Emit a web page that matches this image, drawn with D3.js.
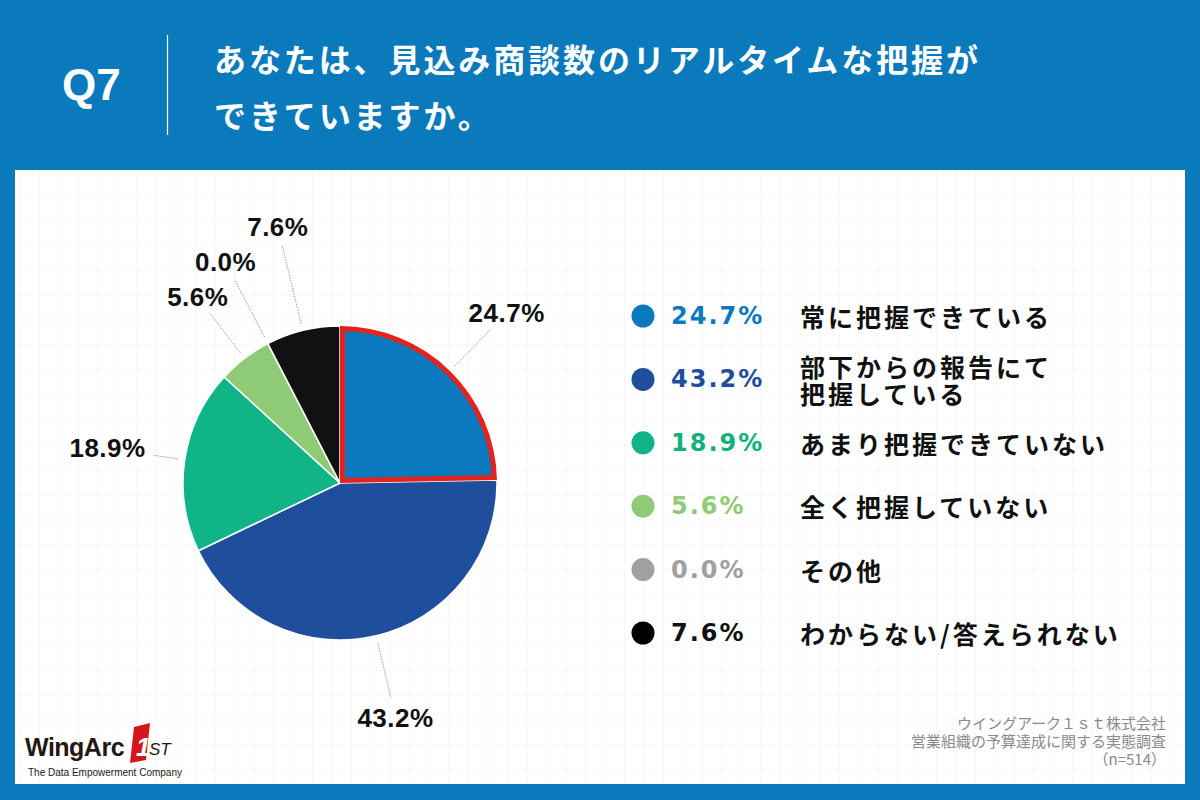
<!DOCTYPE html>
<html lang="ja">
<head>
<meta charset="UTF-8">
<title>Q7 見込み商談数のリアルタイムな把握</title>
<script src="https://d3js.org/d3.v7.min.js"></script>
<style>
  body { margin: 0; background: #0a7abd; }
  svg { display: block; }
</style>
</head>
<body>
<svg id="chart" width="1200" height="800"></svg>
<script>
// data
const categories = [
  "常に把握できている",
  "部下からの報告にて|把握している",
  "あまり把握できていない",
  "全く把握していない",
  "その他",
  "わからない/答えられない"
];
const values = [24.7, 43.2, 18.9, 5.6, 0.0, 7.6];
const colors = ["#0a79bd", "#1f4e9d", "#11b486", "#8fcb77", "#a0a0a0", "#111111"];
const legendTextColors = ["#0a79bd", "#1f4e9d", "#11b07f", "#8fcb77", "#a0a0a0", "#111111"];
const titleLines = ["あなたは、見込み商談数のリアルタイムな把握が", "できていますか。"];
const sourceLines = ["ウイングアーク１ｓｔ株式会社", "営業組織の予算達成に関する実態調査", "（n=514）"];

// label placement (layout only): leader-line end radius and label radius per slice
const leaderEnd = [215, 220, 189, 214, 229, 244];
const labelRadius = [238, 241, 235, 234, 249, 263];

const svg = d3.select("#chart");
const W = 1200, H = 800;

// header
svg.append("rect").attr("width", W).attr("height", H).attr("fill", "#0a7abd");
svg.append("text")
  .attr("x", 62).attr("y", 100)
  .attr("font-family", "'Liberation Sans', Arial, sans-serif")
  .attr("font-weight", 700).attr("font-size", 44)
  .attr("fill", "#fff").text("Q7");
svg.append("line")
  .attr("x1", 167.5).attr("x2", 167.5).attr("y1", 35).attr("y2", 135)
  .attr("stroke", "#fff").attr("stroke-width", 1.2);
svg.selectAll(".title")
  .data(titleLines)
  .enter().append("text")
  .attr("class", "title")
  .attr("x", 214)
  .attr("y", (d, i) => 58 + i * 56)
  .attr("dominant-baseline", "central")
  .attr("font-family", "'Noto Sans CJK JP', sans-serif")
  .attr("font-weight", 700).attr("font-size", 32)
  .attr("letter-spacing", 2.9)
  .attr("fill", "#fff")
  .text(d => d);

// white panel with faint grid
const panel = { x: 15, y: 170, w: 1170, h: 614 };
svg.append("rect")
  .attr("x", panel.x).attr("y", panel.y)
  .attr("width", panel.w).attr("height", panel.h)
  .attr("fill", "#fff");
const grid = svg.append("g").attr("stroke", "#f7f7f7").attr("stroke-width", 1);
grid.selectAll(".gv")
  .data(d3.range(panel.x + 5, panel.x + panel.w, 19.5))
  .enter().append("line")
  .attr("x1", d => d).attr("x2", d => d)
  .attr("y1", panel.y).attr("y2", panel.y + panel.h);
grid.selectAll(".gh")
  .data(d3.range(panel.y + 25, panel.y + panel.h, 25))
  .enter().append("line")
  .attr("x1", panel.x).attr("x2", panel.x + panel.w)
  .attr("y1", d => d).attr("y2", d => d);

// pie
const cx = 340, cy = 483, r = 157;
const pie = d3.pie().sort(null).value(d => d);
const arcs = pie(values);
const arc = d3.arc().innerRadius(0).outerRadius(r);

const g = svg.append("g").attr("transform", `translate(${cx},${cy})`);

g.selectAll(".slice")
  .data(arcs)
  .enter().append("path")
  .attr("class", "slice")
  .attr("d", arc)
  .attr("fill", (d, i) => colors[i])
  .attr("stroke", "#fff")
  .attr("stroke-width", 1.5)
  .attr("stroke-linejoin", "round");

// red highlight on the first slice, drawn inside it
svg.append("defs").append("clipPath").attr("id", "hl")
  .append("path").attr("d", arc(arcs[0]));
g.append("path")
  .attr("d", arc(arcs[0]))
  .attr("fill", "none")
  .attr("stroke", "#e3231c")
  .attr("stroke-width", 10)
  .attr("stroke-linejoin", "miter")
  .attr("clip-path", "url(#hl)");

// leader lines and labels
const mid = d => (d.startAngle + d.endAngle) / 2;
const polar = (a, rad) => [Math.sin(a) * rad, -Math.cos(a) * rad];

g.selectAll(".leader")
  .data(arcs)
  .enter().append("line")
  .attr("class", "leader")
  .attr("x1", d => polar(mid(d), r + 7)[0])
  .attr("y1", d => polar(mid(d), r + 7)[1])
  .attr("x2", (d, i) => polar(mid(d), leaderEnd[i])[0])
  .attr("y2", (d, i) => polar(mid(d), leaderEnd[i])[1])
  .attr("stroke", "#9a9a9a")
  .attr("stroke-width", 1)
  .attr("stroke-dasharray", "1.5,1.2");

const pct = d3.format(".1f");
g.selectAll(".plabel")
  .data(arcs)
  .enter().append("text")
  .attr("class", "plabel")
  .attr("x", (d, i) => polar(mid(d), labelRadius[i])[0])
  .attr("y", (d, i) => polar(mid(d), labelRadius[i])[1])
  .attr("text-anchor", "middle")
  .attr("dominant-baseline", "central")
  .attr("font-family", "'Liberation Sans', Arial, sans-serif")
  .attr("font-weight", 700).attr("font-size", 26)
  .attr("letter-spacing", 0.5)
  .attr("fill", "#111")
  .text(d => pct(d.data) + "%");

// legend
const rowY = d3.scalePoint().domain(categories).range([316, 633]);
const legend = svg.append("g");
const rows = legend.selectAll(".row")
  .data(categories)
  .enter().append("g")
  .attr("class", "row")
  .attr("transform", d => `translate(0,${rowY(d)})`);

rows.append("circle")
  .attr("cx", 643).attr("cy", 0).attr("r", 11.5)
  .attr("fill", (d, i) => colors[i] === "#111111" ? "#000" : colors[i]);

rows.append("text")
  .attr("x", 671).attr("y", 0)
  .attr("dominant-baseline", "central")
  .attr("font-family", "'DejaVu Sans', sans-serif")
  .attr("font-weight", 700).attr("font-size", 24)
  .attr("letter-spacing", 2)
  .attr("fill", (d, i) => legendTextColors[i])
  .text((d, i) => pct(values[i]) + "%");

// category labels; a two-line label goes into one text with tspans
rows.append("text")
  .attr("class", "lab")
  .attr("y", 0)
  .attr("dominant-baseline", "central")
  .attr("font-family", "'Noto Sans CJK JP', sans-serif")
  .attr("font-weight", 700).attr("font-size", 25)
  .attr("letter-spacing", 3)
  .attr("fill", "#111")
  .each(function(d) {
    const parts = d.split("|");
    d3.select(this).selectAll("tspan")
      .data(parts)
      .enter().append("tspan")
      .attr("x", 800)
      .attr("y", (p, j) => (j - (parts.length - 1) / 2) * 27)
      .text(p => p);
  });

// source note, one text block with lines as tspans
svg.append("text")
  .attr("text-anchor", "end")
  .attr("dominant-baseline", "central")
  .attr("font-family", "'Noto Sans CJK JP', sans-serif")
  .attr("font-size", 15)
  .attr("fill", "#8a8a8a")
  .selectAll("tspan")
  .data(sourceLines)
  .enter().append("tspan")
  .attr("x", 1166)
  .attr("y", (d, i) => 722 + i * 18)
  .text(d => d);

// logo
const logo = svg.append("g");
logo.append("text")
  .attr("x", 25).attr("y", 756)
  .attr("font-family", "'Liberation Sans', Arial, sans-serif")
  .attr("font-weight", 700).attr("font-size", 25)
  .attr("letter-spacing", -0.5)
  .attr("fill", "#231815")
  .text("WingArc");
logo.append("path")
  .attr("d", "M134,727 L150,723 L146,760 L130,763 Z")
  .attr("fill", "#d7141b");
logo.append("text")
  .attr("x", 136).attr("y", 756)
  .attr("font-family", "'Liberation Sans', Arial, sans-serif")
  .attr("font-weight", 700).attr("font-style", "italic").attr("font-size", 26)
  .attr("fill", "#fff")
  .text("1");
logo.append("text")
  .attr("x", 149).attr("y", 755)
  .attr("font-family", "'Liberation Sans', Arial, sans-serif")
  .attr("font-style", "italic").attr("font-size", 17)
  .attr("fill", "#231815")
  .text("ST");
logo.append("text")
  .attr("x", 28).attr("y", 772)
  .attr("dominant-baseline", "central")
  .attr("font-family", "'Liberation Sans', Arial, sans-serif")
  .attr("font-size", 10)
  .attr("fill", "#231815")
  .text("The Data Empowerment Company");
</script>
</body>
</html>
